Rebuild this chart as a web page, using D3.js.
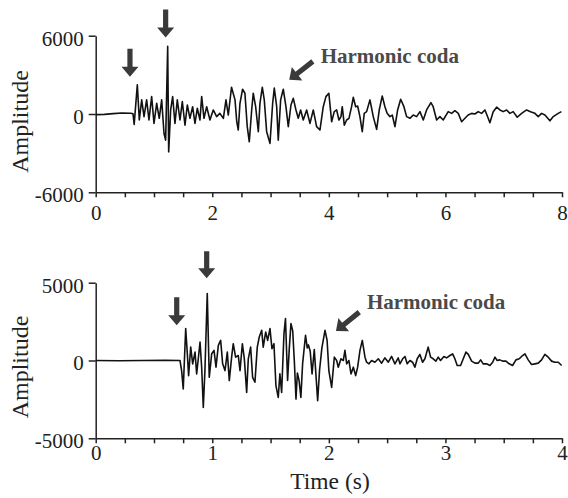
<!DOCTYPE html>
<html>
<head>
<meta charset="utf-8">
<script src="https://cdn.jsdelivr.net/npm/d3@7"></script>
<style>
  body { margin: 0; background: #fff; }
  svg { display: block; font-family: "Liberation Serif", "Times New Roman", serif; }
</style>
</head>
<body>
<svg id="chart" width="568" height="498"></svg>
<script>
// values (time in s, amplitude in counts)
var topTime = [0, 0.15, 0.3, 0.45, 0.6, 0.64, 0.66, 0.714, 0.748, 0.789, 0.829, 0.874, 0.914, 0.96, 1.0, 1.046, 1.09, 1.132, 1.172, 1.2, 1.235, 1.252, 1.286, 1.32, 1.36, 1.4, 1.446, 1.486, 1.532, 1.572, 1.617, 1.663, 1.703, 1.743, 1.789, 1.818, 1.858, 1.904, 1.96, 2.017, 2.075, 2.13, 2.19, 2.235, 2.275, 2.33, 2.39, 2.42, 2.446, 2.475, 2.52, 2.56, 2.6, 2.635, 2.676, 2.703, 2.744, 2.79, 2.818, 2.858, 2.892, 2.933, 2.99, 3.036, 3.064, 3.105, 3.132, 3.173, 3.218, 3.264, 3.304, 3.35, 3.39, 3.436, 3.475, 3.516, 3.561, 3.619, 3.676, 3.733, 3.79, 3.847, 3.904, 3.95, 4.0, 4.048, 4.093, 4.134, 4.173, 4.208, 4.23, 4.265, 4.305, 4.345, 4.39, 4.419, 4.46, 4.494, 4.533, 4.573, 4.607, 4.648, 4.705, 4.762, 4.82, 4.865, 4.916, 4.962, 5.0, 5.048, 5.088, 5.134, 5.18, 5.232, 5.288, 5.334, 5.391, 5.448, 5.506, 5.563, 5.62, 5.677, 5.751, 5.79, 5.849, 5.906, 5.962, 6.048, 6.106, 6.163, 6.22, 6.278, 6.335, 6.39, 6.45, 6.506, 6.563, 6.62, 6.678, 6.734, 6.763, 6.82, 6.878, 6.935, 6.99, 7.05, 7.106, 7.163, 7.232, 7.307, 7.393, 7.46, 7.535, 7.592, 7.65, 7.707, 7.793, 7.85, 7.935, 7.99];
var topAmp = [-50, -30, 30, 80, 60, 20, -800, 2230, -460, 1080, -200, 1080, -460, 1330, -720, 820, -330, 1080, -1490, -2000, 5180, -2900, 310, 1330, -720, 1080, -460, 950, -850, 690, -330, 560, -720, 440, -460, 1330, -330, 560, -460, 310, -200, 50, -330, 1080, -80, 2050, 1080, -590, -1230, 820, 1900, 1590, -970, -2130, 310, 1590, 560, -1360, 820, 2050, 1080, -1360, -2250, 820, 1980, 560, -2000, 1080, 1900, 560, -970, 690, 1200, 310, -330, 310, -460, 310, -720, 310, -970, -1230, 560, 1330, 1590, -590, 180, 310, -460, -200, 560, -850, -460, -330, 560, 1280, 560, 610, -200, -1360, 50, 180, 1080, -200, -1180, 310, 1380, 560, 50, -200, -80, -970, 310, 1130, 560, -200, -330, -80, -200, 180, -460, 310, 870, 560, -460, -200, -460, 180, 50, 250, 50, -590, -330, -80, 50, 0, 180, 50, 310, -330, -670, 180, 520, 310, 180, 310, 50, 180, -250, 50, 310, 180, 50, -200, 50, -80, -520, -200, 50, 180];

var botTime = [0, 0.2, 0.4, 0.6, 0.723, 0.737, 0.751, 0.772, 0.786, 0.797, 0.815, 0.832, 0.852, 0.866, 0.88, 0.895, 0.909, 0.923, 0.937, 0.957, 0.974, 0.995, 1.015, 1.032, 1.052, 1.072, 1.089, 1.109, 1.129, 1.146, 1.166, 1.18, 1.2, 1.223, 1.238, 1.258, 1.275, 1.295, 1.309, 1.329, 1.346, 1.366, 1.386, 1.403, 1.424, 1.437, 1.458, 1.475, 1.495, 1.512, 1.529, 1.546, 1.566, 1.58, 1.595, 1.615, 1.628, 1.646, 1.66, 1.675, 1.69, 1.705, 1.718, 1.73, 1.745, 1.76, 1.775, 1.8, 1.815, 1.825, 1.84, 1.856, 1.875, 1.904, 1.92, 1.94, 1.967, 1.985, 2.0, 2.024, 2.047, 2.067, 2.081, 2.104, 2.124, 2.138, 2.153, 2.172, 2.19, 2.21, 2.23, 2.247, 2.267, 2.287, 2.31, 2.324, 2.344, 2.367, 2.395, 2.424, 2.453, 2.48, 2.51, 2.538, 2.567, 2.595, 2.61, 2.633, 2.653, 2.672, 2.696, 2.718, 2.738, 2.758, 2.781, 2.804, 2.824, 2.852, 2.873, 2.895, 2.918, 2.938, 2.958, 2.987, 3.01, 3.039, 3.062, 3.081, 3.101, 3.13, 3.153, 3.176, 3.196, 3.225, 3.253, 3.282, 3.302, 3.324, 3.353, 3.382, 3.405, 3.425, 3.444, 3.467, 3.49, 3.519, 3.547, 3.576, 3.605, 3.633, 3.662, 3.682, 3.71, 3.739, 3.768, 3.796, 3.825, 3.853, 3.882, 3.911, 3.939, 3.968, 3.997];
var botAmp = [0, -20, 0, 10, 0, -650, -1830, 2050, 430, -970, 860, -215, 540, -860, 110, 1180, -430, -3020, -650, 4310, -1080, 430, 650, -430, 970, 1290, -215, -650, 540, -1290, 215, 1080, 215, 320, -650, 1080, 110, -2050, 110, 860, -1080, -1400, 860, 1510, 1940, 860, 1830, 1290, 2050, 755, 1080, -1620, -2370, -860, -2050, 1730, 2700, -1290, 700, 2370, 1900, -200, -2480, -800, -1300, -2370, -200, 1620, 800, 1000, 600, -860, 700, -2590, -650, 800, 1940, 1290, -650, -1730, 215, 0, -430, 110, 0, 650, -215, 0, -860, -430, -970, -430, 650, 1290, 215, -110, -215, 0, -110, 110, -170, 170, -110, 260, -215, 170, -215, 110, 260, -215, 0, -110, -430, 110, 390, -110, 110, 860, 215, 110, -40, 215, 0, 260, 170, 320, 430, 110, -320, -320, 110, 540, 390, -40, -170, -170, 40, -215, -215, -320, -110, 215, 0, 40, -40, -40, -215, -320, 40, 110, 320, 430, 40, -260, -215, -170, 40, 390, 215, -40, -110, -110, -320];

var topXTicks = [0, 2, 4, 6, 8];
var topYTicks = [-6000, 0, 6000];
var botXTicks = [0, 1, 2, 3, 4];
var botYTicks = [-5000, 0, 5000];

// arrows: tip in data units, direction in degrees, length in px
var topArrows = [
  { t: 0.588, a: 2845, angle: 90, len: 28 },
  { t: 1.2, a: 5870, angle: 90, len: 28 },
  { t: 3.32, a: 2615, angle: 142, len: 30 }
];
var botArrows = [
  { t: 0.695, a: 2265, angle: 90, len: 28 },
  { t: 0.952, a: 5285, angle: 90, len: 27 },
  { t: 2.061, a: 1895, angle: 141, len: 30 }
];
var codaLabel = "Harmonic coda";

var svg = d3.select("#chart");

var panels = [
  { time: topTime, amp: topAmp, xMax: 8, xStep: 0.5, yMax: 6000,
    xTicks: topXTicks, yTicks: topYTicks, top: 35.7, bottom: 192.3, pad: 8,
    arrows: topArrows, label: { t: 3.86, a: 3945 }, titleY: 121.5 },
  { time: botTime, amp: botAmp, xMax: 4, xStep: 0.25, yMax: 5000,
    xTicks: botXTicks, yTicks: botYTicks, top: 282.7, bottom: 438.3, pad: 2,
    arrows: botArrows, label: { t: 2.327, a: 3300 }, titleY: 367 }
];

var left = 95.7, right = 562;

panels.forEach(function (p) {
  var x = d3.scaleLinear().domain([0, p.xMax]).range([left, right]);
  var y = d3.scaleLinear().domain([-p.yMax, p.yMax]).range([p.bottom, p.top]);

  var minor = d3.range(0, p.xMax + 1e-9, p.xStep);

  var xa = svg.append("g")
    .attr("transform", "translate(0," + p.bottom + ")")
    .call(d3.axisBottom(x)
      .tickValues(minor)
      .tickSize(5)
      .tickSizeOuter(0)
      .tickPadding(p.pad)
      .tickFormat(function (d) {
        return p.xTicks.indexOf(d) >= 0 ? String(d) : "";
      }));

  var ya = svg.append("g")
    .attr("transform", "translate(" + left + ",0)")
    .call(d3.axisLeft(y)
      .tickValues(p.yTicks)
      .tickSize(7)
      .tickSizeOuter(0)
      .tickPadding(5)
      .tickFormat(function (d) { return String(d); }));
  ya.selectAll("text").attr("dy", "0.45em");

  [xa, ya].forEach(function (g) {
    g.selectAll("path, line").attr("stroke", "#222").attr("stroke-width", 1.5);
    g.selectAll("text")
      .attr("fill", "#222")
      .style("font-size", "21px")
      .style("font-family", "'Liberation Serif', serif");
  });

  var line = d3.line()
    .x(function (d, i) { return x(p.time[i]); })
    .y(function (d) { return y(d); });

  svg.append("path")
    .datum(p.amp)
    .attr("d", line)
    .attr("fill", "none")
    .attr("stroke", "#111")
    .attr("stroke-width", 1.6)
    .attr("stroke-linejoin", "round");

  svg.append("text")
    .attr("transform", "translate(27.6," + p.titleY + ") rotate(-90)")
    .attr("text-anchor", "middle")
    .style("font-size", "24px")
    .attr("fill", "#222")
    .text("Amplitude");

  // arrows
  p.arrows.forEach(function (ar) {
    var L = ar.len, hl = 10, hw = 8.5, sw = 2.6;
    var pts = [[0, 0], [-hl, -hw], [-hl, -sw], [-L, -sw], [-L, sw], [-hl, sw], [-hl, hw]];
    svg.append("polygon")
      .attr("points", pts.map(function (q) { return q.join(","); }).join(" "))
      .attr("transform", "translate(" + x(ar.t) + "," + y(ar.a) + ") rotate(" + ar.angle + ")")
      .attr("fill", "#3a3a3a");
  });

  svg.append("text")
    .attr("x", x(p.label.t))
    .attr("y", y(p.label.a))
    .style("font-size", "21px")
    .style("font-weight", "bold")
    .attr("fill", "#4a4a4a")
    .text(codaLabel);
});

svg.append("text")
  .attr("x", 330)
  .attr("y", 489)
  .attr("text-anchor", "middle")
  .style("font-size", "23.5px")
  .attr("fill", "#222")
  .text("Time (s)");
</script>
</body>
</html>
